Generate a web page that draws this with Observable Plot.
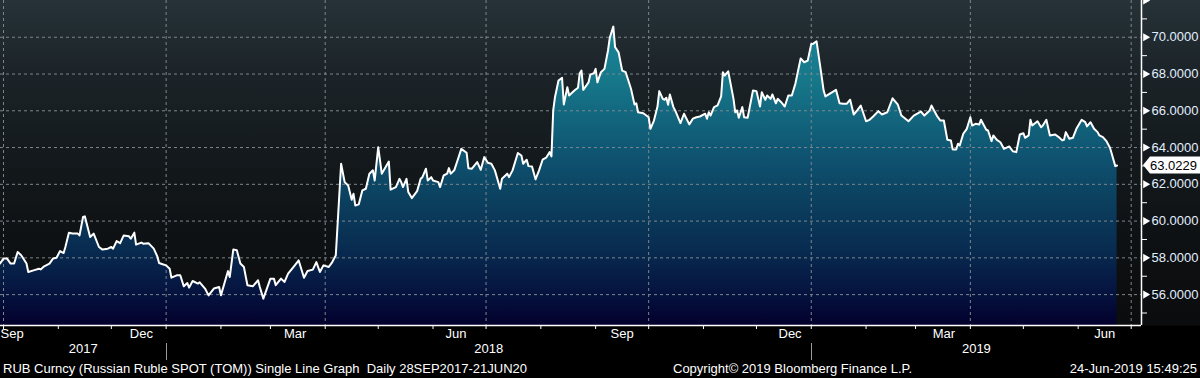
<!DOCTYPE html>
<html><head><meta charset="utf-8">
<script src="https://cdn.jsdelivr.net/npm/d3@7"></script>
<script src="https://cdn.jsdelivr.net/npm/@observablehq/plot@0.6"></script>
<style>
html,body{margin:0;padding:0;background:#000;}
#wrap{width:1200px;height:378px;overflow:hidden;position:relative;
 background:linear-gradient(to bottom,#263238 0px,#1c2429 70px,#141a1d 150px,#0e1113 240px,#0b0c0d 325px,#000 326px,#000 378px);
 font-family:"Liberation Sans",Arial,sans-serif;}
#chart svg{display:block;}
#footer{position:relative;height:18px;color:#fff;font-size:13px;white-space:pre;}
#footer span{position:absolute;top:1px;}
</style></head><body>
<div id="wrap">
<div id="chart"></div>
<div id="footer"><span style="left:3px">RUB Curncy (Russian Ruble SPOT (TOM)) Single Line Graph  Daily 28SEP2017-21JUN20</span><span style="left:673px">Copyright© 2019 Bloomberg Finance L.P.</span><span style="right:3px">24-Jun-2019 15:49:25</span></div>
</div>
<script>
const dates = [
"2017-09-29","2017-10-01","2017-10-03","2017-10-05","2017-10-07","2017-10-09","2017-10-11","2017-10-14","2017-10-15","2017-10-18",
"2017-10-21","2017-10-22","2017-10-24","2017-10-27","2017-10-29","2017-10-31","2017-11-02","2017-11-04","2017-11-05","2017-11-07",
"2017-11-09","2017-11-12","2017-11-13","2017-11-15","2017-11-16","2017-11-19","2017-11-21","2017-11-24","2017-11-26","2017-11-29",
"2017-12-01","2017-12-02","2017-12-04","2017-12-06","2017-12-08","2017-12-11","2017-12-12","2017-12-14","2017-12-15","2017-12-18",
"2017-12-19","2017-12-22","2017-12-25","2017-12-27","2017-12-28","2017-12-30","2018-01-01","2018-01-03","2018-01-04","2018-01-07",
"2018-01-09","2018-01-11","2018-01-13","2018-01-14","2018-01-16","2018-01-19","2018-01-20","2018-01-23","2018-01-25","2018-01-28",
"2018-01-31","2018-02-01","2018-02-05","2018-02-06","2018-02-08","2018-02-10","2018-02-12","2018-02-14","2018-02-16","2018-02-19",
"2018-02-22","2018-02-23","2018-02-25","2018-02-27","2018-03-01","2018-03-03","2018-03-04","2018-03-07","2018-03-09","2018-03-11",
"2018-03-14","2018-03-17","2018-03-20","2018-03-22","2018-03-25","2018-03-27","2018-03-29","2018-03-31","2018-04-03","2018-04-05",
"2018-04-07","2018-04-10","2018-04-12","2018-04-14","2018-04-16","2018-04-17","2018-04-18","2018-04-20","2018-04-22","2018-04-24",
"2018-04-26","2018-04-28","2018-04-29","2018-05-01","2018-05-03","2018-05-07","2018-05-08","2018-05-11","2018-05-13","2018-05-14",
"2018-05-15","2018-05-17","2018-05-18","2018-05-20","2018-05-23","2018-05-25","2018-05-26","2018-05-28","2018-05-29","2018-05-31",
"2018-06-01","2018-06-04","2018-06-05","2018-06-07","2018-06-09","2018-06-10","2018-06-11","2018-06-13","2018-06-15","2018-06-17",
"2018-06-20","2018-06-21","2018-06-23","2018-06-26","2018-06-28","2018-06-30","2018-07-02","2018-07-04","2018-07-06","2018-07-09",
"2018-07-10","2018-07-13","2018-07-14","2018-07-16","2018-07-19","2018-07-21","2018-07-22","2018-07-24","2018-07-25","2018-07-27",
"2018-07-29","2018-07-31","2018-08-02","2018-08-04","2018-08-06","2018-08-07","2018-08-08","2018-08-09","2018-08-11","2018-08-13",
"2018-08-14","2018-08-16","2018-08-17","2018-08-20","2018-08-22","2018-08-23","2018-08-24","2018-08-25","2018-08-28","2018-08-29",
"2018-08-31","2018-09-01","2018-09-02","2018-09-04","2018-09-06","2018-09-08","2018-09-09","2018-09-11","2018-09-12","2018-09-14",
"2018-09-16","2018-09-18","2018-09-21","2018-09-23","2018-09-24","2018-09-25","2018-09-28","2018-10-01","2018-10-02","2018-10-04",
"2018-10-06","2018-10-07","2018-10-09","2018-10-10","2018-10-11","2018-10-12","2018-10-13","2018-10-15","2018-10-16","2018-10-19",
"2018-10-21","2018-10-24","2018-10-26","2018-10-28","2018-10-30","2018-11-02","2018-11-03","2018-11-04","2018-11-05","2018-11-07",
"2018-11-09","2018-11-11","2018-11-12","2018-11-13","2018-11-15","2018-11-18","2018-11-19","2018-11-20","2018-11-21","2018-11-23",
"2018-11-24","2018-11-26","2018-11-29","2018-12-01","2018-12-03","2018-12-04","2018-12-06","2018-12-07","2018-12-09","2018-12-10",
"2018-12-12","2018-12-13","2018-12-15","2018-12-17","2018-12-19","2018-12-21","2018-12-23","2018-12-26","2018-12-28","2018-12-30",
"2019-01-01","2019-01-02","2019-01-04","2019-01-06","2019-01-08","2019-01-09","2019-01-12","2019-01-15","2019-01-17","2019-01-19",
"2019-01-21","2019-01-23","2019-01-25","2019-01-27","2019-01-29","2019-02-01","2019-02-03","2019-02-05","2019-02-08","2019-02-10",
"2019-02-13","2019-02-16","2019-02-19","2019-02-21","2019-02-25","2019-02-28","2019-03-04","2019-03-06","2019-03-09","2019-03-10",
"2019-03-13","2019-03-15","2019-03-17","2019-03-19","2019-03-21","2019-03-22","2019-03-24","2019-03-25","2019-03-26","2019-03-28",
"2019-03-30","2019-04-01","2019-04-02","2019-04-04","2019-04-06","2019-04-07","2019-04-10","2019-04-11","2019-04-13","2019-04-14",
"2019-04-16","2019-04-18","2019-04-20","2019-04-23","2019-04-25","2019-04-27","2019-04-29","2019-05-01","2019-05-02","2019-05-04",
"2019-05-05","2019-05-06","2019-05-09","2019-05-11","2019-05-12","2019-05-14","2019-05-16","2019-05-19","2019-05-21","2019-05-23",
"2019-05-24","2019-05-25","2019-05-27","2019-05-29","2019-05-31","2019-06-03","2019-06-05","2019-06-06","2019-06-08","2019-06-10",
"2019-06-12","2019-06-13","2019-06-15","2019-06-17","2019-06-19","2019-06-20","2019-06-22","2019-06-23"];
const values = [
57.69,57.96,57.96,57.69,57.69,58.32,58.14,57.69,57.23,57.32,
57.41,57.37,57.54,57.69,57.96,58.01,58.37,58.26,58.59,59.37,
59.32,59.32,59.22,60.22,60.26,59.13,59.32,58.59,58.45,58.50,
58.59,58.50,58.91,58.80,59.22,59.17,59.04,59.37,58.72,58.83,
58.77,58.80,58.50,58.08,57.72,57.65,57.59,57.41,56.92,57.05,
57.05,56.45,56.63,56.38,56.74,56.60,56.67,56.33,55.96,56.33,
56.41,55.96,57.28,56.96,58.45,58.41,57.69,57.50,56.51,56.45,
56.78,56.41,55.78,56.33,56.87,56.87,56.51,56.87,56.69,57.14,
57.50,57.86,56.92,57.28,57.36,57.77,57.23,57.59,57.50,57.77,
58.14,63.12,62.12,61.94,61.16,61.49,60.85,60.91,61.67,61.76,
62.58,62.76,62.21,64.02,62.58,63.24,61.71,61.85,62.30,62.12,
61.85,62.30,61.58,61.25,61.63,62.30,62.39,62.85,62.21,62.39,
62.21,62.12,61.85,62.48,62.58,62.88,62.58,62.76,63.34,63.93,
63.72,62.88,62.85,63.21,62.79,63.48,63.17,63.12,62.76,61.76,
62.30,62.58,62.39,62.76,63.70,63.57,63.12,63.34,62.99,62.97,
62.27,62.76,63.34,63.45,63.75,63.52,66.02,66.74,67.65,67.79,
66.34,67.28,66.83,67.10,67.25,68.04,68.19,67.14,67.55,67.97,
68.04,68.28,67.55,68.10,68.28,69.28,69.97,70.58,69.46,69.18,
68.19,68.10,67.20,66.34,66.41,65.92,65.87,65.65,65.02,65.47,
66.23,67.07,66.65,66.60,66.71,66.33,66.89,66.20,66.02,65.33,
65.84,65.26,65.57,65.65,65.69,65.84,65.57,65.92,65.74,66.20,
66.29,66.78,68.10,67.92,68.15,66.65,65.92,66.02,65.62,66.20,
65.65,65.62,67.10,67.07,66.23,67.01,66.60,66.83,66.65,66.89,
66.41,66.65,66.47,66.23,66.83,66.83,67.47,68.85,68.64,68.73,
69.64,69.64,69.78,68.46,67.10,66.78,66.96,67.14,66.41,66.38,
66.38,66.60,65.80,66.02,66.29,65.43,65.51,65.69,65.98,65.80,
65.92,66.68,66.33,65.74,65.43,65.74,65.96,65.74,66.02,66.29,
65.74,65.47,65.47,64.42,64.39,63.90,63.90,64.21,64.11,64.75,
65.02,65.65,65.20,65.29,65.25,65.51,64.97,64.93,64.35,64.66,
64.42,64.29,63.93,64.06,63.80,63.75,64.71,64.78,64.53,64.66,
65.51,65.20,65.43,65.11,65.20,65.51,64.66,64.71,64.57,64.39,
64.42,64.84,64.48,64.53,65.02,65.51,65.38,65.15,65.38,65.02,
64.84,64.66,64.57,64.35,63.99,63.66,62.99,63.0229];

const yLabelTicks = [56,58,60,62,64,66,68,70];
const yMarkerTicks = [56,58,60,62,64,66,68,70,72];
const yMinorTicks = [55,57,59,61,63,65,67,69,71];
const quarterStarts = ["2017-10-01","2018-01-01","2018-04-01","2018-07-01","2018-10-01","2019-01-01","2019-04-01","2019-07-01"];
const monthLabels = ["Sep","Dec","Mar","Jun","Sep","Dec","Mar","Jun"];
const monthLabelDates = ["2017-09-15","2017-12-18","2018-03-15","2018-06-14","2018-09-16","2018-12-20","2019-03-17","2019-06-16"];
const years = [2017, 2018, 2019];
const lastValue = 63.0229;

const parse = d3.utcParse("%Y-%m-%d");
const data = dates.map((d, i) => ({date: parse(d), value: values[i]}));
const xDomain = [new Date(Date.UTC(2017, 8, 29, 7)), new Date(Date.UTC(2019, 6, 6, 20))];
const yDomain = [54.32, 72];
const monthStarts = d3.utcMonth.range(xDomain[0], xDomain[1]);
const labelData = monthLabels.map((l, i) => ({label: l, date: parse(monthLabelDates[i])}));
const labelsIn = labelData.filter(d => d.date >= xDomain[0]);
const labelsClamped = labelData.filter(d => d.date < xDomain[0]).map(d => ({label: d.label, date: xDomain[0]}));
const yearData = years.map(y => {
  const s = Math.max(Date.UTC(y, 0, 1), +xDomain[0]);
  const e = Math.min(Date.UTC(y + 1, 0, 1), +xDomain[1]);
  return {label: String(y), date: new Date((s + e) / 2)};
});
const yearBounds = years.slice(1).map(y => new Date(Date.UTC(y, 0, 1)));

const grid = "#7d878d";
const font = "'Liberation Sans', Arial, sans-serif";
const fs = 13;

const plot = Plot.plot({
  width: 1200, height: 360,
  marginLeft: 0, marginRight: 59, marginTop: 0, marginBottom: 35,
  style: {background: "transparent", color: "#fff", fontFamily: font, fontSize: fs + "px", overflow: "visible"},
  x: {type: "utc", domain: xDomain, label: null},
  y: {domain: yDomain, label: null},
  marks: [
    Plot.areaY(data, {x: "date", y1: yDomain[0], y2: "value", fill: "url(#rubArea)"}),
    Plot.ruleY(yLabelTicks, {stroke: grid, strokeDasharray: "3,3", strokeWidth: 1}),
    Plot.ruleX(quarterStarts.map(parse), {stroke: grid, strokeDasharray: "3,3", strokeWidth: 1}),
    Plot.lineY(data, {x: "date", y: "value", stroke: "#fff", strokeWidth: 2}),
    Plot.ruleY([yDomain[0]], {stroke: "#fff", strokeWidth: 1.5}),
    Plot.ruleX([xDomain[1]], {stroke: "#fff", strokeWidth: 1.5}),
    Plot.axisX(monthStarts, {anchor: "bottom", tickSize: 4, tickFormat: () => "", stroke: "#fff"}),
    Plot.axisY(yMinorTicks, {anchor: "right", tickSize: 5, tickFormat: () => "", stroke: "#fff"}),
    Plot.dot(yMarkerTicks, {y: d => d, frameAnchor: "right", dx: 4, symbol: "triangle", r: 3, rotate: 90, fill: "#fff", stroke: null}),
    Plot.axisY(yLabelTicks, {anchor: "right", tickSize: 0, tickPadding: 10, tickFormat: d => d.toFixed(4), fill: "#e2efff", fontSize: fs}),
    Plot.text(labelsIn, {x: "date", text: "label", frameAnchor: "bottom", dy: 12, fill: "#fff", fontSize: fs}),
    Plot.text(labelsClamped, {x: "date", text: "label", frameAnchor: "bottom", dy: 12, textAnchor: "start", fill: "#fff", fontSize: fs}),
    Plot.text(yearData, {x: "date", text: "label", frameAnchor: "bottom", dy: 27, fill: "#fff", fontSize: fs})
  ]
});

const svg = d3.select(plot);
const defs = svg.insert("defs", ":first-child");
const grad = defs.append("linearGradient").attr("id", "rubArea")
  .attr("gradientUnits", "userSpaceOnUse").attr("x1", 0).attr("x2", 0).attr("y1", 0).attr("y2", 325);
[[0, "#1d8ea4"], [0.1, "#1a8499"], [0.25, "#167789"], [0.46, "#0f5673"], [0.62, "#0b3f5e"],
 [0.77, "#082b50"], [0.9, "#05133f"], [1, "#03002c"]].forEach(([o, c]) =>
  grad.append("stop").attr("offset", o).attr("stop-color", c));

const xs = plot.scale("x"), ys = plot.scale("y");
const base = ys.apply(yDomain[0]);
svg.append("g").selectAll("line").data(yearBounds).join("line")
  .attr("x1", d => Math.round(xs.apply(d)) + 0.5).attr("x2", d => Math.round(xs.apply(d)) + 0.5)
  .attr("y1", base + 18).attr("y2", base + 35)
  .attr("stroke", "#9a9a9a").attr("stroke-width", 1);

const xr = xs.apply(xDomain[1]);
const ly = ys.apply(lastValue);
const g = svg.append("g");
g.append("path")
  .attr("d", `M${xr + 2},${ly} L${xr + 9},${ly - 8.5} H1200 V${ly + 8.5} H${xr + 9} Z`)
  .attr("fill", "#fff");
g.append("text").attr("x", xr + 9).attr("y", ly).attr("dy", "0.35em")
  .attr("text-anchor", "start")
  .attr("fill", "#000").attr("font-size", fs).attr("font-family", font)
  .text(lastValue.toFixed(4));

document.getElementById("chart").appendChild(plot);
</script>
</body></html>
